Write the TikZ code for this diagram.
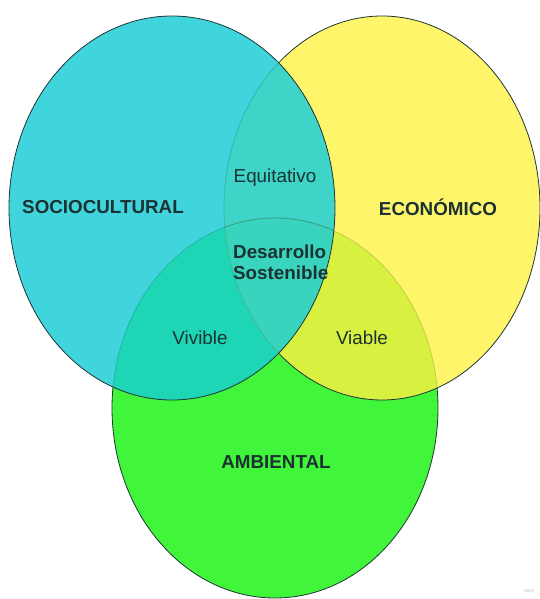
\documentclass[tikz,border=0pt]{standalone}
\usepackage{fontspec}
\setmainfont{Liberation Sans}

\definecolor{soccol}{HTML}{40D4DC}
\definecolor{ecocol}{HTML}{FFF56A}
\definecolor{ambcol}{HTML}{40F53A}
\definecolor{socamb}{HTML}{1ED6B6}
\definecolor{soceco}{HTML}{3ED4C8}
\definecolor{ecoamb}{HTML}{D8F040}
\definecolor{allthree}{HTML}{38D4BE}
\definecolor{rimcol}{HTML}{1F3636}
\definecolor{txt}{HTML}{1C3232}

\newcommand{\ellsoc}{(172,208) ellipse [x radius=163pt, y radius=192pt]}
\newcommand{\elleco}{(382,208) ellipse [x radius=158pt, y radius=192pt]}
\newcommand{\ellamb}{(275,408) ellipse [x radius=163pt, y radius=190pt]}
\newcommand{\outside}{(-5,-5) rectangle (545,604)}

\begin{document}
\begin{tikzpicture}[x=1pt,y=-1pt,
    lbl/.style={text=txt, inner sep=0pt, font=\fontsize{18.8}{21}\selectfont},
    bold/.style={lbl, font=\fontsize{18.8}{21}\selectfont\bfseries},
    rim/.style={draw=rimcol, line width=0.8pt},
    faint/.style={draw=black, draw opacity=0.15, line width=0.8pt}]
    \fill[white] (0,0) rectangle (540,599);
    \useasboundingbox (0,0) rectangle (540,599);
    % circles
    \fill[ambcol] \ellamb;
    \fill[ecocol] \elleco;
    \fill[soccol] \ellsoc;
    % overlaps
    \begin{scope}
      \clip \ellsoc;
      \fill[socamb] \ellamb;
      \fill[soceco] \elleco;
    \end{scope}
    \begin{scope}
      \clip \elleco;
      \fill[ecoamb] \ellamb;
    \end{scope}
    \begin{scope}
      \clip \ellsoc;
      \clip \elleco;
      \fill[allthree] \ellamb;
    \end{scope}
    % outlines
    \begin{scope}
      \clip \ellsoc;
      \draw[faint] \elleco;
      \draw[faint] \ellamb;
    \end{scope}
    \begin{scope}
      \clip \elleco;
      \draw[faint] \ellamb;
    \end{scope}
    \begin{scope}[even odd rule]
      \clip \outside \ellsoc;
      \draw[rim] \elleco;
      \clip \outside \elleco;
      \draw[rim] \ellamb;
    \end{scope}
    \draw[rim] \ellsoc;
    % labels
    \node[bold] (soc) at (103,207) {SOCIOCULTURAL};
    \node[bold] (eco) at (438,207) {ECONÓMICO};
    \node[bold] (amb) at (276,462) {AMBIENTAL};
    \node[lbl] (equ) at (275,178) {Equitativo};
    \node[lbl] (viv) at (200,338) {Vivible};
    \node[lbl] (via) at (362,338) {Viable};
    \node[bold, align=left, anchor=west] (des) at (233,262) {Desarrollo\\Sostenible};
    \node[text=black!25, inner sep=0pt, font=\fontsize{5}{6}\selectfont] (mir) at (529,591) {miro};
  \end{tikzpicture}
\end{document}
